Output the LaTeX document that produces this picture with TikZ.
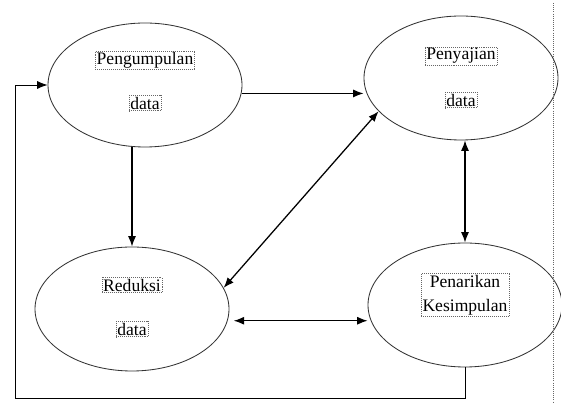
\documentclass[tikz,border=0pt]{standalone}
\usepackage{fontspec}
\setmainfont{Liberation Serif}
\usepackage{tikz}
\usetikzlibrary{positioning}
\usetikzlibrary{shapes.geometric}
\usetikzlibrary{arrows.meta}
\tikzstyle{myellipse} = [ellipse, draw=black!80, line width=0.6pt, minimum width=4.85cm, minimum height=3.1cm, inner sep=0pt]
\tikzstyle{mytext} = [draw=black!60, densely dotted, inner sep=1pt, font=\fontsize{12.5}{17}\selectfont, text=black]
\tikzstyle{myarrow} = [line width=0.9pt, >={Latex[length=2.6mm,width=2mm]}]

\begin{document}
\begin{tikzpicture}
        \useasboundingbox (0,0) rectangle (14.025,10.075);

        % Vertices
        \node[myellipse] (kumpul) at (3.625,7.95) {};
        \node[mytext] (kumpul_a) at ([yshift=0.62cm]kumpul.center) {Pengumpulan};
        \node[mytext] (kumpul_b) at ([yshift=-0.45cm]kumpul.center) {data};
        \node[myellipse] (saji) at (11.525,8.125) {};
        \node[mytext] (saji_a) at ([yshift=0.55cm]saji.center) {Penyajian};
        \node[mytext] (saji_b) at ([yshift=-0.55cm]saji.center) {data};
        \node[myellipse] (reduksi) at (3.3,2.35) {};
        \node[mytext] (reduksi_a) at ([yshift=0.6cm]reduksi.center) {Reduksi};
        \node[mytext] (reduksi_b) at ([yshift=-0.5cm]reduksi.center) {data};
        \node[myellipse] (tarik) at (11.625,2.45) {};
        \node[mytext, align=center] (tarik_a) at ([yshift=0.25cm]tarik.center) {Penarikan\\Kesimpulan};
        \coordinate (balik) at (0.375,0.125);

        % Edges
        \draw[myarrow, ->] (kumpul.-5) -- (kumpul.-5 -| saji.west);
        \draw[myarrow, ->] (reduksi.north |- kumpul.south) -- (reduksi.north);
        \draw[myarrow, <->] (reduksi.13) -- (saji.-158);
        \draw[myarrow, <->] (tarik.north |- saji.south) -- (tarik.north);
        \draw[myarrow, <->] ([xshift=1.5mm]reduksi.-7) -- (reduksi.-7 -| tarik.west);
        \draw[myarrow, line width=0.6pt, ->] (tarik.south) |- (balik) |- (kumpul.west);

        % Margin
        \draw[black!60, densely dotted, line width=0.5pt] (13.825,10.0) -- (13.825,0);
     \end{tikzpicture}
\end{document}
